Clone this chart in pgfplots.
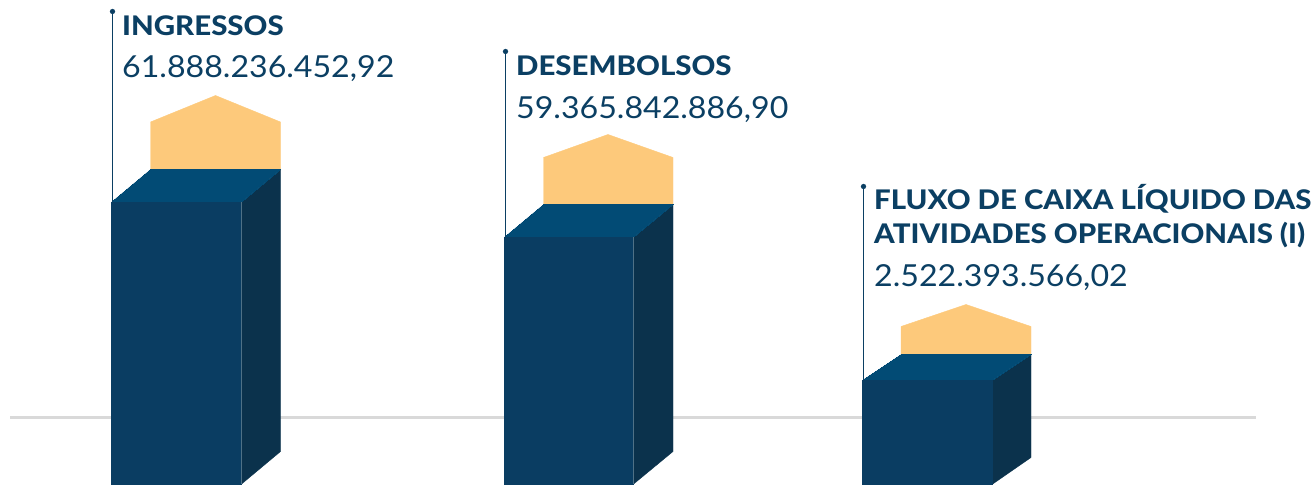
\documentclass[border=0pt]{standalone}
\usepackage{fontspec}
\setmainfont[FakeStretch=1.06]{Lato}
\newfontfamily\headfont[FakeStretch=1.09]{Lato Heavy}
\usepackage{pgfplots}
\pgfplotsset{compat=1.18}
\definecolor{front}{HTML}{0A3D62}
\definecolor{side}{HTML}{0B324C}
\definecolor{topf}{HTML}{024B75}
\definecolor{roof}{HTML}{FDC97B}
\definecolor{ink}{HTML}{0B3F63}
\definecolor{edge}{HTML}{4F7186}
\definecolor{base}{HTML}{D9D9D9}
\newcommand{\head}[1]{\fontsize{27}{32}\selectfont\headfont\color{ink}#1}
\newcommand{\val}[1]{\fontsize{30.3}{38}\selectfont\color{ink}#1}
\begin{document}
\begin{tikzpicture}
\useasboundingbox (0,0) rectangle (1315pt,503pt);
\begin{axis}[
  at={(0,0)}, anchor=south west,
  width=1315pt, height=503pt, scale only axis,
  xmin=0, xmax=1315, ymin=-502.5, ymax=0.5,
  hide axis, clip=false,
  every axis plot/.append style={no markers},
]
% baseline
\addplot[base, line width=3pt] coordinates {(10,-417) (1256,-417)};

% ingressos
\addplot[roof, fill=roof] coordinates {(150.5,-169) (150.5,-121.5) (215.5,-95) (280.5,-121.5) (280.5,-169)} -- cycle;
\addplot[side, fill=side] coordinates {(241,-202) (280.5,-169) (280.5,-451) (241,-484)} -- cycle;
\addplot[topf, fill=topf, line width=0pt] coordinates {(111,-202) (150.5,-169) (280.5,-169) (241,-202)} -- cycle;
\addplot[front, fill=front, line width=0pt] coordinates {(111,-202) (241,-202) (241,-484) (111,-484)} -- cycle;
\addplot[edge, line width=0.6pt] coordinates {(241,-202) (241,-484)};
\addplot[ink, line width=1.5pt] coordinates {(112.5,-11) (112.5,-202)};
\addplot[ink, only marks, mark=*, mark size=2.4pt] coordinates {(112.5,-11)};

% desembolsos
\addplot[roof, fill=roof] coordinates {(543.5,-204) (543.5,-157) (608,-134) (673,-157) (673,-204)} -- cycle;
\addplot[side, fill=side] coordinates {(633,-237) (673,-204) (673,-451) (633,-484)} -- cycle;
\addplot[topf, fill=topf, line width=0pt] coordinates {(504,-237) (543.5,-204) (673,-204) (633,-237)} -- cycle;
\addplot[front, fill=front, line width=0pt] coordinates {(504,-237) (633,-237) (633,-484) (504,-484)} -- cycle;
\addplot[edge, line width=0.6pt] coordinates {(633,-237) (633,-484)};
\addplot[ink, line width=1.5pt] coordinates {(505.5,-51) (505.5,-237)};
\addplot[ink, only marks, mark=*, mark size=2.4pt] coordinates {(505.5,-51)};

% fluxo de caixa
\addplot[roof, fill=roof] coordinates {(901,-354) (901,-326) (966,-304) (1031,-326) (1031,-354)} -- cycle;
\addplot[side, fill=side] coordinates {(992,-380) (1031,-354) (1031,-457) (992,-484)} -- cycle;
\addplot[topf, fill=topf, line width=0pt] coordinates {(862,-380) (901,-354) (1031,-354) (992,-380)} -- cycle;
\addplot[front, fill=front, line width=0pt] coordinates {(862,-380) (992,-380) (992,-484) (862,-484)} -- cycle;
\addplot[ink, line width=1.5pt] coordinates {(863.5,-186) (863.5,-380)};
\addplot[ink, only marks, mark=*, mark size=2.4pt] coordinates {(863.5,-186)};

\node[anchor=base west, inner sep=0pt] at (axis cs:122,-35) {\head{INGRESSOS}};
\node[anchor=base west, inner sep=0pt] at (axis cs:122,-77.5) {\val{61.888.236.452,92}};
\node[anchor=base west, inner sep=0pt] at (axis cs:516,-75.5) {\head{DESEMBOLSOS}};
\node[anchor=base west, inner sep=0pt] at (axis cs:516,-118.5) {\val{59.365.842.886,90}};
\node[anchor=base west, inner sep=0pt] at (axis cs:874,-209.5) {\head{FLUXO DE CAIXA LÍQUIDO DAS}};
\node[anchor=base west, inner sep=0pt] at (axis cs:874,-243.5) {\head{ATIVIDADES OPERACIONAIS (I)}};
\node[anchor=base west, inner sep=0pt] at (axis cs:874,-286.5) {\val{2.522.393.566,02}};
\end{axis}
\end{tikzpicture}
\end{document}
